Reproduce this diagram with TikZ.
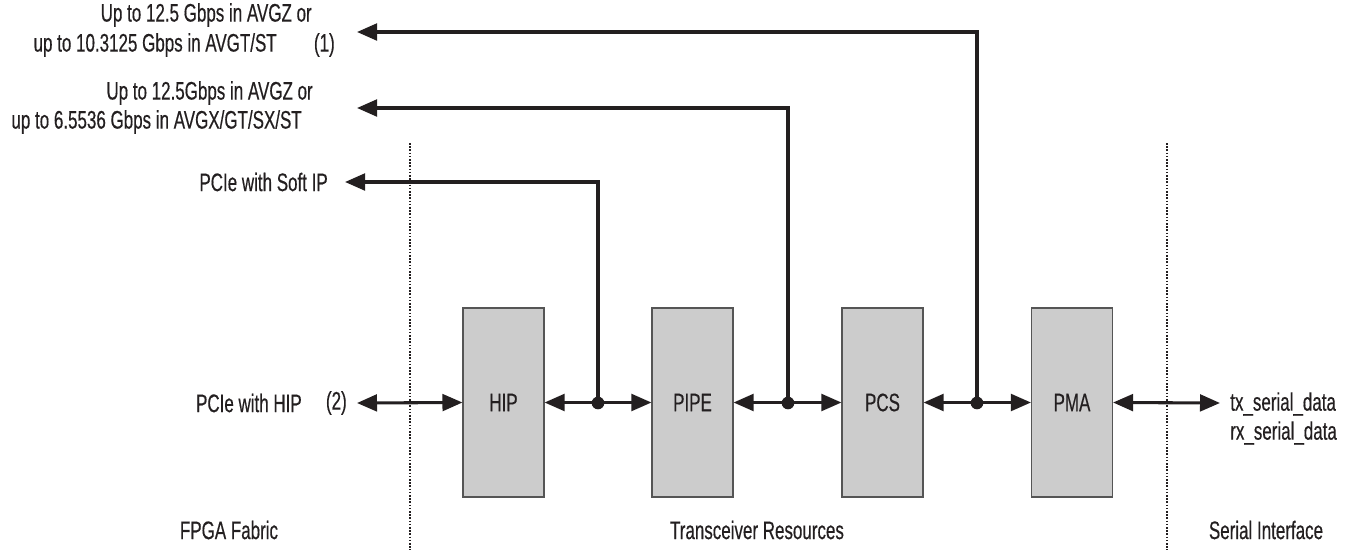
\documentclass[tikz,border=0pt]{standalone}
\usepackage{fontspec}
\setmainfont[FakeStretch=0.67,FakeBold=0.4]{Liberation Sans}
\usetikzlibrary{arrows.meta}
\definecolor{ink}{HTML}{231F20}
\definecolor{boxfill}{HTML}{CCCCCC}
\definecolor{boxline}{HTML}{555555}
\begin{document}
\begin{tikzpicture}[x=0.75pt,y=-0.75pt,
  every node/.style={font=\fontsize{19}{23}\selectfont, text=ink},
  blk/.style={draw=boxline, fill=boxfill, line width=0.8pt, minimum width=60.75pt, minimum height=141.75pt, inner sep=0pt},
  lbl/.style={inner sep=0pt},
  conn/.style={draw=ink, line width=2.3pt, {Triangle[length=15pt,width=12.5pt]}-{Triangle[length=15pt,width=12.5pt]}},
  oneway/.style={draw=ink, line width=2.3pt, -{Triangle[length=15pt,width=12.5pt]}},
  sep/.style={draw=ink, line width=1pt, dash pattern=on 1.2pt off 1.2pt},
  dot/.style={circle, fill=ink, inner sep=0pt, minimum size=9.5pt}]
\useasboundingbox (0,0) rectangle (1368,550);

% separators
\coordinate (s1t) at (410,143); \coordinate (s1b) at (410,550);
\coordinate (s2t) at (1167,143); \coordinate (s2b) at (1167,550);
\draw[sep] (s1t) -- (s1b);
\draw[sep] (s2t) -- (s2b);

% blocks
\node[blk] (hip)  at (503.5,402.5) {HIP};
\node[blk] (pipe) at (692.5,402.5) {PIPE};
\node[blk] (pcs)  at (882.5,402.5) {PCS};
\node[blk] (pma)  at (1072,402.5) {PMA};

% labels left
\node[lbl, anchor=east] (l1a) at (312,15) {Up to 12.5 Gbps in AVGZ or};
\node[lbl, anchor=east] (l1b) at (277,45) {up to 10.3125 Gbps in AVGT/ST};
\node[lbl, anchor=east] (n1) at (335,45) {(1)};
\node[lbl, anchor=east] (l2a) at (313,93) {Up to 12.5Gbps in AVGZ or};
\node[lbl, anchor=east] (l2b) at (302,122) {up to 6.5536 Gbps in AVGX/GT/SX/ST};
\node[lbl, anchor=east] (soft) at (328,182) {PCIe with Soft IP};
\node[lbl, anchor=east] (hipl) at (302,403) {PCIe with HIP};
\node[lbl, anchor=east] (n2) at (347,403) {(2)};

% right labels
\node[lbl, anchor=west] (tx) at (1230,404) {tx\_serial\_data};
\node[lbl, anchor=west] (rx) at (1230,433) {rx\_serial\_data};

% bottom labels
\node[lbl] (fab) at (229,530) {FPGA Fabric};
\node[lbl] (trx) at (757,530) {Transceiver Resources};
\node[lbl] (ser) at (1266,530) {Serial Interface};

% coordinates
\coordinate (t1) at (357,32);
\coordinate (t2) at (357,108);
\coordinate (t3) at (345,182);
\coordinate (t4) at (357,403);
\coordinate (t5) at (1220,403);
\coordinate (c1) at (977,32);
\coordinate (c2) at (788,108);
\coordinate (c3) at (598,182);
\node[dot] (j1) at (598,403) {};
\node[dot] (j2) at (788,403) {};
\node[dot] (j3) at (977,403) {};

% connectors
\draw[conn] (t4) -- (hip.west);
\draw[conn] (hip.east) -- (pipe.west);
\draw[conn] (pipe.east) -- (pcs.west);
\draw[conn] (pcs.east) -- (pma.west);
\draw[conn] (pma.east) -- (t5);
\draw[oneway] (j1.center) -- (c3) -- (t3);
\draw[oneway] (j2.center) -- (c2) -- (t2);
\draw[oneway] (j3.center) -- (c1) -- (t1);
\end{tikzpicture}
\end{document}
